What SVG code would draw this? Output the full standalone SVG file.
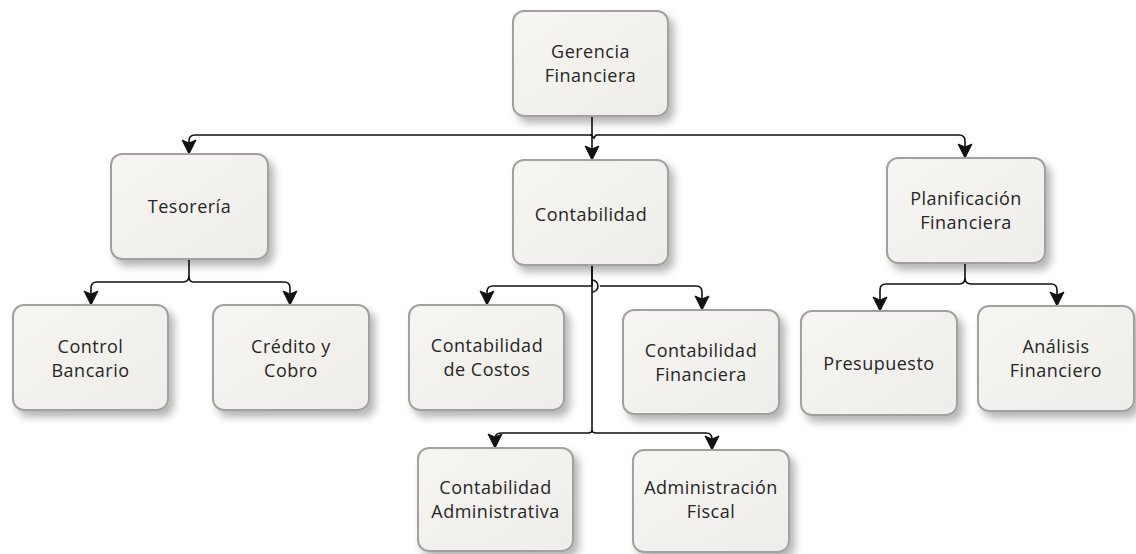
<svg xmlns="http://www.w3.org/2000/svg" width="1136" height="554" viewBox="0 0 1136 554">
<style>
.box{fill:url(#g);stroke:#a3a19e;stroke-width:2;filter:url(#sh)}
.t{font-family:"Open Sans","Noto Sans",sans-serif;font-size:18px;letter-spacing:0.5px;fill:#262626;text-anchor:middle}
.c{fill:none;stroke:#111;stroke-width:1.6}
.a{fill:none;stroke:#111;stroke-width:1.6;marker-end:url(#ar)}
</style>
<defs>
<linearGradient id="g" x1="0" y1="0" x2="1" y2="1">
<stop offset="0" stop-color="#f6f5f2"/>
<stop offset="1" stop-color="#efede9"/>
</linearGradient>
<filter id="sh" x="-20%" y="-20%" width="150%" height="160%">
<feGaussianBlur in="SourceAlpha" stdDeviation="4"/>
<feOffset dx="5" dy="6" result="b"/>
<feComponentTransfer><feFuncA type="linear" slope="0.3"/></feComponentTransfer>
<feMerge><feMergeNode/><feMergeNode in="SourceGraphic"/></feMerge>
</filter>
<marker id="ar" markerUnits="userSpaceOnUse" markerWidth="20" markerHeight="20" viewBox="-2 -10 20 20" refX="14" refY="0" orient="auto">
<path d="M0,-7 L14,0 L0,7 L3,0 Z" fill="#111" stroke="#111" stroke-width="1" stroke-linejoin="miter"/>
</marker>
</defs>

<g id="connectors">
<path class="a" d="M592,116 V160"/>
<path class="a" d="M592,135 H195 Q189,135 189,141 V154"/>
<path class="a" d="M590,135 Q592,135 594,138 L596,135 H959 Q965,135 965,141 V158"/>
<path class="a" d="M189,259 V276 Q189,282 183,282 H97 Q91,282 91,288 V305"/>
<path class="a" d="M189,276 Q189,282 193,282 H284 Q290,282 290,288 V305"/>
<path class="a" d="M592,265 V286 H493 Q487,286 487,292 V305"/>
<path class="c" d="M592,265 V430"/>
<path class="a" d="M592,280 A6,6 0 0 1 592,292 M600,286 H696 Q702,286 702,292 V310"/>
<path class="a" d="M592,430 Q592,433 588,433 H501 Q495,433 495,439 V448"/>
<path class="a" d="M592,430 Q592,433 596,433 H706 Q712,433 712,439 V450"/>
<path class="a" d="M965,263 V278 Q965,284 959,284 H886 Q880,284 880,290 V311"/>
<path class="a" d="M965,278 Q965,284 971,284 H1051 Q1057,284 1057,290 V306"/>
</g>

<g id="gerencia"><rect class="box" x="513" y="11" width="155" height="105" rx="11"/><text class="t" x="590.5" y="58">Gerencia</text><text class="t" x="590.5" y="82">Financiera</text></g>
<g id="tesoreria"><rect class="box" x="111" y="154" width="157" height="105" rx="11"/><text class="t" x="189.5" y="213">Tesorería</text></g>
<g id="contabilidad"><rect class="box" x="513" y="160" width="155" height="105" rx="11"/><text class="t" x="591" y="221">Contabilidad</text></g>
<g id="planificacion"><rect class="box" x="887" y="158" width="158" height="105" rx="11"/><text class="t" x="966" y="205">Planificación</text><text class="t" x="966" y="229">Financiera</text></g>
<g id="control"><rect class="box" x="13" y="305" width="155" height="105" rx="11"/><text class="t" x="90.5" y="353">Control</text><text class="t" x="90.5" y="377">Bancario</text></g>
<g id="credito"><rect class="box" x="213" y="305" width="156" height="105" rx="11"/><text class="t" x="291" y="353">Crédito y</text><text class="t" x="291" y="377">Cobro</text></g>
<g id="costos"><rect class="box" x="409" y="305" width="155" height="105" rx="11"/><text class="t" x="487" y="352">Contabilidad</text><text class="t" x="487" y="376">de Costos</text></g>
<g id="cfinanciera"><rect class="box" x="623" y="310" width="156" height="104" rx="11"/><text class="t" x="701" y="357">Contabilidad</text><text class="t" x="701" y="381">Financiera</text></g>
<g id="cadministrativa"><rect class="box" x="418" y="448" width="155" height="103" rx="11"/><text class="t" x="495.5" y="494">Contabilidad</text><text class="t" x="495.5" y="518">Administrativa</text></g>
<g id="afiscal"><rect class="box" x="633" y="450" width="156" height="102" rx="11"/><text class="t" x="711" y="494">Administración</text><text class="t" x="711" y="518">Fiscal</text></g>
<g id="presupuesto"><rect class="box" x="801" y="311" width="156" height="104" rx="11"/><text class="t" x="879" y="370">Presupuesto</text></g>
<g id="analisis"><rect class="box" x="978" y="306" width="156" height="105" rx="11"/><text class="t" x="1056" y="353">Análisis</text><text class="t" x="1056" y="377">Financiero</text></g>
</svg>
